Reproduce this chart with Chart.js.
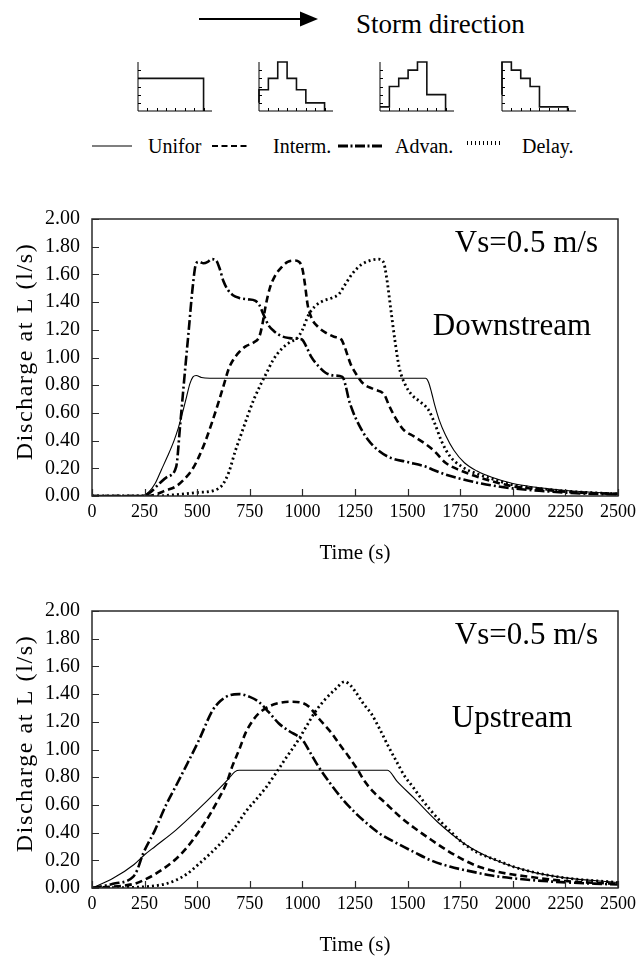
<!DOCTYPE html>
<html>
<head>
<meta charset="utf-8">
<script src="https://cdn.jsdelivr.net/npm/chart.js@4.4.1/dist/chart.umd.min.js"></script>
<style>
  body { margin: 0; background: #fff; }
  #page { position: relative; width: 641px; height: 961px; overflow: hidden; font-family: "Liberation Serif", "Times New Roman", serif; }
  #page canvas, #page svg { position: absolute; }
</style>
</head>
<body>
<div id="page">
  <svg id="head" width="641" height="170" style="left:0;top:0">
    <line x1="199" y1="19" x2="303" y2="19" stroke="#000" stroke-width="2"/>
    <polygon points="300,11.5 318,19 300,26.5" fill="#000"/>
    <text x="356" y="33" font-size="27" font-family="Liberation Serif">Storm direction</text>

    <line x1="92" y1="146" x2="132" y2="146" stroke="#000" stroke-width="1.2"/>
    <text x="148" y="153" font-size="20" font-family="Liberation Serif">Unifor</text>
    <line x1="212" y1="146" x2="248" y2="146" stroke="#000" stroke-width="2" stroke-dasharray="6 3.5"/>
    <text x="273" y="153" font-size="20" font-family="Liberation Serif">Interm.</text>
    <line x1="338" y1="146" x2="383" y2="146" stroke="#000" stroke-width="3.2" stroke-dasharray="10 2.5 2 2.5"/>
    <text x="395" y="153" font-size="20" font-family="Liberation Serif">Advan.</text>
    <line x1="467" y1="143" x2="503" y2="143" stroke="#000" stroke-width="4" stroke-dasharray="1 3"/>
    <text x="522" y="153" font-size="20" font-family="Liberation Serif">Delay.</text>
  </svg>

  <canvas id="ico1" width="80" height="55" style="left:135px;top:59px"></canvas>
  <canvas id="ico2" width="80" height="55" style="left:256px;top:59px"></canvas>
  <canvas id="ico3" width="80" height="55" style="left:377px;top:59px"></canvas>
  <canvas id="ico4" width="80" height="55" style="left:499px;top:59px"></canvas>

  <canvas id="downChart" width="641" height="372" style="left:0;top:195px"></canvas>
  <canvas id="upChart" width="641" height="372" style="left:0;top:587px"></canvas>
</div>

<script>
/* =========================
   資料
========================= */
// rainfall pattern icons, 7 equal blocks each
const hyetoUniform = [4, 4, 4, 4, 4, 4, 4];
const hyetoInterm  = [1, 2.6, 4, 6, 4, 2.6, 1];
const hyetoAdvan   = [0.5, 0.5, 3, 4, 5, 6, 2];
const hyetoDelay   = [2, 6, 5, 4, 3, 0.5, 0.5];

const seriesNames = ["Unifor", "Interm.", "Advan.", "Delay."];
const yTitle = "Discharge at L (l/s)";
const xTitle = "Time (s)";
const speedNote = "Vs=0.5 m/s";

// Downstream : time (s) / discharge (l/s)
const dnUniT = [0, 230, 270, 300, 330, 360, 390, 410, 430, 450, 465, 480, 495, 520, 560, 1585, 1600, 1615, 1630, 1650, 1680, 1720, 1770, 1830, 1900, 2000, 2100, 2250, 2400, 2500];
const dnUniQ = [0, 0, 0.03, 0.09, 0.19, 0.29, 0.40, 0.49, 0.60, 0.72, 0.81, 0.86, 0.87, 0.855, 0.85, 0.85, 0.82, 0.74, 0.65, 0.55, 0.44, 0.33, 0.24, 0.18, 0.135, 0.09, 0.065, 0.04, 0.025, 0.02];

const dnIntT = [0, 250, 300, 350, 400, 450, 480, 510, 540, 570, 600, 630, 650, 670, 700, 730, 770, 795, 810, 825, 845, 870, 900, 930, 960, 985, 1000, 1012, 1025, 1045, 1075, 1110, 1150, 1185, 1200, 1230, 1260, 1290, 1340, 1390, 1410, 1440, 1480, 1530, 1590, 1630, 1680, 1750, 1850, 2000, 2150, 2300, 2500];
const dnIntQ = [0, 0, 0.01, 0.04, 0.07, 0.14, 0.20, 0.29, 0.40, 0.53, 0.67, 0.82, 0.92, 0.98, 1.04, 1.08, 1.11, 1.15, 1.24, 1.37, 1.50, 1.59, 1.65, 1.69, 1.70, 1.69, 1.64, 1.53, 1.38, 1.28, 1.22, 1.18, 1.15, 1.13, 1.08, 0.95, 0.87, 0.81, 0.77, 0.73, 0.66, 0.57, 0.48, 0.43, 0.37, 0.32, 0.24, 0.185, 0.13, 0.07, 0.045, 0.025, 0.015];

const dnAdvT = [0, 240, 280, 320, 360, 400, 420, 440, 460, 478, 495, 510, 530, 550, 568, 590, 605, 625, 645, 670, 700, 740, 775, 795, 815, 840, 865, 900, 940, 980, 998, 1015, 1040, 1075, 1110, 1150, 1190, 1205, 1220, 1240, 1270, 1310, 1360, 1420, 1500, 1590, 1620, 1680, 1750, 1850, 2000, 2150, 2300, 2500];
const dnAdvQ = [0, 0, 0.03, 0.09, 0.14, 0.21, 0.53, 0.87, 1.20, 1.50, 1.68, 1.69, 1.68, 1.69, 1.71, 1.70, 1.65, 1.55, 1.49, 1.45, 1.43, 1.42, 1.41, 1.38, 1.31, 1.23, 1.19, 1.155, 1.14, 1.135, 1.13, 1.09, 1.01, 0.94, 0.89, 0.87, 0.86, 0.80, 0.70, 0.61, 0.51, 0.41, 0.33, 0.275, 0.245, 0.21, 0.19, 0.155, 0.125, 0.09, 0.055, 0.035, 0.02, 0.01];

const dnDelT = [0, 300, 400, 500, 580, 620, 650, 680, 710, 740, 770, 800, 830, 860, 900, 940, 975, 1000, 1030, 1060, 1100, 1140, 1175, 1200, 1240, 1280, 1320, 1360, 1385, 1400, 1420, 1440, 1460, 1490, 1520, 1560, 1600, 1630, 1660, 1700, 1760, 1830, 1920, 2000, 2150, 2300, 2500];
const dnDelQ = [0, 0, 0.01, 0.025, 0.04, 0.08, 0.17, 0.32, 0.45, 0.58, 0.70, 0.80, 0.89, 0.98, 1.06, 1.11, 1.14, 1.20, 1.31, 1.37, 1.41, 1.43, 1.46, 1.52, 1.61, 1.67, 1.70, 1.71, 1.69, 1.58, 1.35, 1.12, 0.93, 0.80, 0.73, 0.68, 0.62, 0.52, 0.40, 0.29, 0.21, 0.16, 0.115, 0.08, 0.05, 0.03, 0.015];

// Upstream
const upUniT = [0, 100, 200, 250, 300, 400, 500, 600, 650, 680, 700, 1405, 1450, 1530, 1640, 1770, 1920, 2080, 2240, 2500];
const upUniQ = [0, 0.07, 0.17, 0.24, 0.30, 0.42, 0.56, 0.71, 0.79, 0.84, 0.85, 0.85, 0.77, 0.65, 0.48, 0.32, 0.20, 0.12, 0.075, 0.04];

const upIntT = [0, 100, 200, 250, 300, 399, 450, 509, 560, 604, 640, 667, 700, 730, 760, 792, 840, 887, 940, 990, 1030, 1080, 1138, 1180, 1217, 1260, 1296, 1340, 1390, 1460, 1531, 1610, 1689, 1770, 1846, 1950, 2082, 2250, 2500];
const upIntQ = [0, 0.01, 0.03, 0.06, 0.10, 0.21, 0.29, 0.41, 0.53, 0.65, 0.76, 0.88, 1.00, 1.12, 1.20, 1.26, 1.31, 1.335, 1.345, 1.34, 1.31, 1.22, 1.12, 1.03, 0.955, 0.86, 0.77, 0.69, 0.62, 0.52, 0.435, 0.35, 0.27, 0.20, 0.15, 0.11, 0.08, 0.05, 0.03];

const upAdvT = [0, 100, 195, 215, 242, 300, 352, 400, 447, 509, 572, 610, 650, 700, 750, 792, 840, 887, 940, 985, 1005, 1040, 1075, 1130, 1186, 1240, 1296, 1370, 1453, 1530, 1610, 1700, 1800, 1900, 2000, 2200, 2500];
const upAdvQ = [0, 0.03, 0.08, 0.13, 0.245, 0.42, 0.60, 0.74, 0.88, 1.07, 1.28, 1.35, 1.39, 1.40, 1.38, 1.345, 1.27, 1.19, 1.13, 1.09, 1.06, 0.97, 0.88, 0.76, 0.65, 0.56, 0.48, 0.39, 0.32, 0.26, 0.20, 0.155, 0.12, 0.09, 0.07, 0.045, 0.025];

const upDelT = [0, 258, 350, 399, 450, 509, 570, 635, 680, 730, 780, 824, 870, 918, 950, 981, 1020, 1060, 1107, 1160, 1201, 1230, 1260, 1290, 1327, 1370, 1406, 1445, 1485, 1525, 1563, 1610, 1657, 1710, 1767, 1840, 1925, 2000, 2082, 2239, 2500];
const upDelQ = [0, 0.01, 0.03, 0.057, 0.10, 0.175, 0.26, 0.36, 0.44, 0.55, 0.64, 0.72, 0.82, 0.93, 1.00, 1.07, 1.17, 1.27, 1.36, 1.44, 1.49, 1.46, 1.40, 1.33, 1.26, 1.14, 1.03, 0.92, 0.81, 0.73, 0.65, 0.56, 0.48, 0.40, 0.32, 0.25, 0.20, 0.155, 0.12, 0.075, 0.04];

/* =========================
   線型
========================= */
const lineStyles = [
  { borderWidth: 1.1, borderDash: [] },            // Unifor
  { borderWidth: 2.6, borderDash: [7, 4] },        // Interm.
  { borderWidth: 2.6, borderDash: [10, 3, 2, 3] }, // Advan.
  { borderWidth: 2.8, borderDash: [2, 3] }         // Delay.
];

const SERIF = '"Liberation Serif", "Times New Roman", serif';
Chart.defaults.font.family = SERIF;
Chart.defaults.color = "#000";

const $ = (sel) => document.querySelector(sel);
const pts = (t, q) => t.map((x, i) => ({ x, y: q[i] }));

/* =========================
   plugins
========================= */
// box + inward ticks
const framePlugin = {
  id: "frame",
  afterDatasetsDraw(chart, args, o) {
    const { ctx, chartArea: a } = chart;
    const xs = chart.scales.x, ys = chart.scales.y;
    ctx.save();
    ctx.strokeStyle = o.color;
    ctx.lineWidth = o.width;
    ctx.beginPath();
    if (o.box) {
      ctx.rect(a.left, a.top, a.right - a.left, a.bottom - a.top);
    } else {
      ctx.moveTo(a.left, a.top);
      ctx.lineTo(a.left, a.bottom);
      ctx.lineTo(a.right, a.bottom);
    }
    ctx.stroke();
    ctx.lineWidth = o.tickWidth;
    ctx.beginPath();
    for (let v = o.xFrom; v <= o.xTo + 1e-9; v += o.xStep) {
      const px = Math.round(xs.getPixelForValue(v)) + 0.5;
      ctx.moveTo(px, a.bottom);
      ctx.lineTo(px, a.bottom - o.tickLen);
    }
    for (let v = o.yFrom; v <= o.yTo + 1e-9; v += o.yStep) {
      const py = Math.round(ys.getPixelForValue(v)) + 0.5;
      ctx.moveTo(a.left, py);
      ctx.lineTo(a.left + o.tickLen, py);
    }
    ctx.stroke();
    ctx.restore();
  }
};

// stretched y title + notes inside the plot
const notesPlugin = {
  id: "notes",
  afterDraw(chart, args, o) {
    const { ctx, chartArea: a } = chart;
    ctx.save();
    ctx.fillStyle = "#000";
    ctx.translate(o.yTitleX, (a.top + a.bottom) / 2 + o.yTitleShift);
    ctx.rotate(-Math.PI / 2);
    ctx.font = `24px ${SERIF}`;
    ctx.letterSpacing = "1.6px";
    ctx.textAlign = "center";
    ctx.textBaseline = "middle";
    ctx.fillText(yTitle, 0, 0);
    ctx.restore();

    ctx.save();
    ctx.fillStyle = "#000";
    ctx.font = `31px ${SERIF}`;
    ctx.textBaseline = "alphabetic";
    ctx.textAlign = "right";
    ctx.fillText(speedNote, a.right - 20, a.top + 33);
    ctx.textAlign = "center";
    ctx.fillText(o.label, 512, a.top + 116);
    ctx.restore();
  }
};

/* =========================
   主圖
========================= */
function makeFlowChart(id, label, series) {
  return new Chart($(id), {
    type: "line",
    data: {
      datasets: series.map((s, i) => ({
        label: seriesNames[i],
        data: pts(s[0], s[1]),
        borderColor: "#000",
        borderWidth: lineStyles[i].borderWidth,
        borderDash: lineStyles[i].borderDash,
        borderCapStyle: "butt",
        pointRadius: 0,
        fill: false,
        cubicInterpolationMode: "monotone"
      }))
    },
    options: {
      responsive: false,
      animation: false,
      devicePixelRatio: 1,
      layout: { padding: { left: 0, right: 19, top: 19, bottom: 0 } },
      plugins: {
        legend: { display: false },
        tooltip: { enabled: false },
        frame: { box: true, color: "#2a2a2a", width: 1.5, tickWidth: 1.2, tickLen: 7,
                 xFrom: 0, xTo: 2500, xStep: 250, yFrom: 0, yTo: 2, yStep: 0.2 },
        notes: { label, yTitleX: 26, yTitleShift: -6 }
      },
      scales: {
        x: {
          type: "linear", min: 0, max: 2500,
          afterFit: (s) => { s.height = 71; },
          grid: { display: false, drawTicks: false },
          border: { display: false },
          ticks: { stepSize: 250, padding: 5, maxRotation: 0, autoSkip: false, font: { size: 18 },
                   callback: (v) => String(v) },
          title: { display: true, text: xTitle, font: { size: 21 }, padding: { top: 0, bottom: 1 } }
        },
        y: {
          min: 0, max: 2,
          afterFit: (s) => { s.width = 92; },
          grid: { display: false, drawTicks: false },
          border: { display: false },
          ticks: { stepSize: 0.2, padding: 12, font: { size: 20 }, callback: (v) => v.toFixed(2) }
        }
      }
    },
    plugins: [framePlugin, notesPlugin]
  });
}

/* =========================
   雨型小圖
========================= */
function makeIcon(id, blocks) {
  const data = blocks.map((v, i) => ({ x: i, y: v }));
  data.push({ x: blocks.length, y: blocks[blocks.length - 1] }, { x: blocks.length, y: 0 });
  return new Chart($(id), {
    type: "line",
    data: {
      datasets: [{
        data,
        stepped: "after",
        borderColor: "#111",
        borderWidth: 1.6,
        pointRadius: 0,
        fill: false,
        clip: 4
      }]
    },
    options: {
      responsive: false,
      animation: false,
      devicePixelRatio: 1,
      layout: { padding: 3 },
      plugins: {
        legend: { display: false },
        tooltip: { enabled: false },
        frame: { box: false, color: "#000", width: 1, tickWidth: 1, tickLen: 3,
                 xFrom: 1, xTo: 7, xStep: 1, yFrom: 1, yTo: 5, yStep: 1 }
      },
      scales: {
        x: { type: "linear", min: 0, max: 7.9, display: false },
        y: { min: 0, max: 6, display: false }
      }
    },
    plugins: [framePlugin]
  });
}

makeIcon("#ico1", hyetoUniform);
makeIcon("#ico2", hyetoInterm);
makeIcon("#ico3", hyetoAdvan);
makeIcon("#ico4", hyetoDelay);

makeFlowChart("#downChart", "Downstream", [
  [dnUniT, dnUniQ], [dnIntT, dnIntQ], [dnAdvT, dnAdvQ], [dnDelT, dnDelQ]
]);
makeFlowChart("#upChart", "Upstream", [
  [upUniT, upUniQ], [upIntT, upIntQ], [upAdvT, upAdvQ], [upDelT, upDelQ]
]);
</script>
</body>
</html>
